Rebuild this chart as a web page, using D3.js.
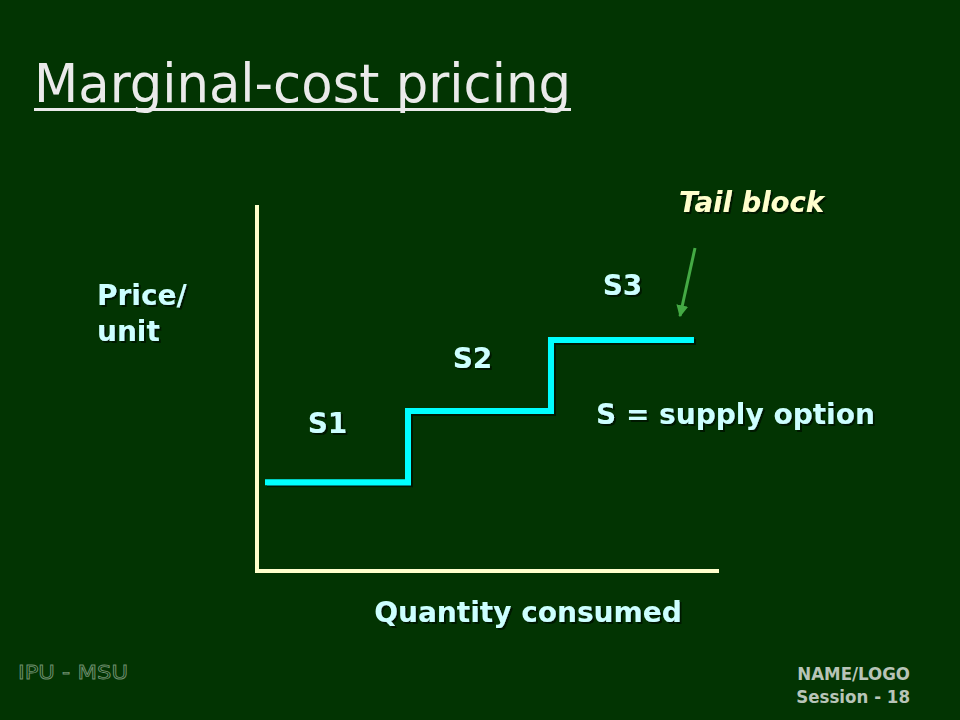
<!DOCTYPE html>
<html><head><meta charset="utf-8">
<script src="https://cdn.jsdelivr.net/npm/d3@7"></script>
<style>body{margin:0;background:#023402;}svg{display:block;}</style>
</head><body>
<script>
// Data
const options = ["S1", "S2", "S3"];
const qStart = [0, 1, 2];          // quantity where each supply block starts
const qEnd = [1, 2, 3];            // quantity where each supply block ends
const price = [1, 2, 3];           // price per unit of each block
const xLabel = "Quantity consumed";
const yLabel = ["Price/", "unit"];

const W = 960, H = 720;
const svg = d3.select("body").append("svg").attr("width", W).attr("height", H);
const defs = svg.append("defs");
defs.append("filter").attr("id", "sh").attr("x", "-10%").attr("y", "-30%").attr("width", "130%").attr("height", "170%")
  .append("feDropShadow").attr("dx", 2).attr("dy", 2).attr("stdDeviation", 0.6).attr("flood-color", "#001400").attr("flood-opacity", 0.95);
svg.append("rect").attr("width", W).attr("height", H).attr("fill", "#023402");

const x = d3.scaleLinear().domain([-0.056, 3.175]).range([257, 719]);
const y = d3.scaleLinear().domain([-0.25, 4.9]).range([571, 205]);

function label(t, px, py, opts) {
  return svg.append("text").attr("x", px).attr("y", py)
    .attr("font-family", opts.family || "'DejaVu Sans', Verdana, sans-serif")
    .attr("font-size", opts.size).attr("font-weight", opts.weight || "bold")
    .attr("font-style", opts.style || "normal")
    .attr("text-anchor", opts.anchor || "start")
    .attr("filter", opts.shadow === false ? null : "url(#sh)")
    .attr("fill", opts.fill).text(t);
}

// Title
const title = label("Marginal-cost pricing", 34, 102, {family: "'DejaVu Sans Condensed', Tahoma, sans-serif", size: 54, weight: "normal", fill: "#eaeaea", shadow: false});
title.attr("textLength", 537).attr("lengthAdjust", "spacingAndGlyphs");
svg.append("rect").attr("x", 34).attr("y", 108).attr("width", 537).attr("height", 3).attr("fill", "#eaeaea");

// Axes
const axisColor = "#ffffcc";
svg.append("line").attr("x1", x.range()[0]).attr("x2", x.range()[0]).attr("y1", y.range()[1]).attr("y2", y.range()[0])
  .attr("stroke", axisColor).attr("stroke-width", 4);
svg.append("line").attr("x1", x.range()[0] - 2).attr("x2", x.range()[1]).attr("y1", y.range()[0]).attr("y2", y.range()[0])
  .attr("stroke", axisColor).attr("stroke-width", 4);

// Step line
const pts = [];
options.forEach((o, i) => { pts.push([qStart[i], price[i]]); pts.push([qEnd[i], price[i]]); });
const line = d3.line().x(d => x(d[0])).y(d => y(d[1]));
svg.append("path").datum(pts).attr("d", line).attr("fill", "none")
  .attr("stroke", "#00ffff").attr("stroke-width", 6).attr("stroke-linejoin", "miter")
  .attr("filter", "url(#sh)");

// Option labels
const labelFill = "#ccffff";
const labOffsets = [[-9, -49], [-7, -43], [0, -45]];
options.forEach((o, i) => {
  const cx = (x(qStart[i]) + x(qEnd[i])) / 2 + labOffsets[i][0];
  label(o, cx, y(price[i]) + labOffsets[i][1], {size: 28, anchor: "middle", fill: labelFill});
});

// Axis labels
label(yLabel[0], 97, 305, {size: 28, fill: labelFill});
label(yLabel[1], 97, 341, {size: 28, fill: labelFill});
label(xLabel, 528, 622, {size: 28, anchor: "middle", fill: labelFill});
label("S = supply option", 596, 424, {size: 28, fill: labelFill});

// Tail block annotation
label("Tail block", 679, 212, {size: 27.5, style: "italic", fill: "#ffffcc"});
defs.append("marker").attr("id", "ah").attr("viewBox", "0 0 10 10")
  .attr("refX", 9).attr("refY", 5).attr("markerWidth", 4).attr("markerHeight", 4).attr("orient", "auto")
  .append("path").attr("d", "M0,0 L10,5 L0,10 z").attr("fill", "#44aa44");
svg.append("line").attr("x1", 695).attr("y1", 248).attr("x2", 680).attr("y2", 316)
  .attr("stroke", "#44aa44").attr("stroke-width", 3).attr("marker-end", "url(#ah)");

// Footer
svg.append("text").attr("x", 18).attr("y", 679).attr("font-family", "'DejaVu Sans Condensed', sans-serif")
  .attr("font-size", 20).attr("fill", "none").attr("stroke", "#6f8f6f").attr("stroke-width", 0.8)
  .attr("textLength", 110).attr("lengthAdjust", "spacingAndGlyphs").text("IPU - MSU");
svg.append("text").attr("x", 910).attr("y", 680).attr("text-anchor", "end").attr("font-family", "'DejaVu Sans Condensed', sans-serif")
  .attr("font-weight", "bold").attr("font-size", 18.5).attr("fill", "#b8c4b8").text("NAME/LOGO");
svg.append("text").attr("x", 910).attr("y", 703).attr("text-anchor", "end").attr("font-family", "'DejaVu Sans Condensed', sans-serif")
  .attr("font-weight", "bold").attr("font-size", 18.5).attr("fill", "#b8c4b8").text("Session - 18");
</script>
</body></html>
